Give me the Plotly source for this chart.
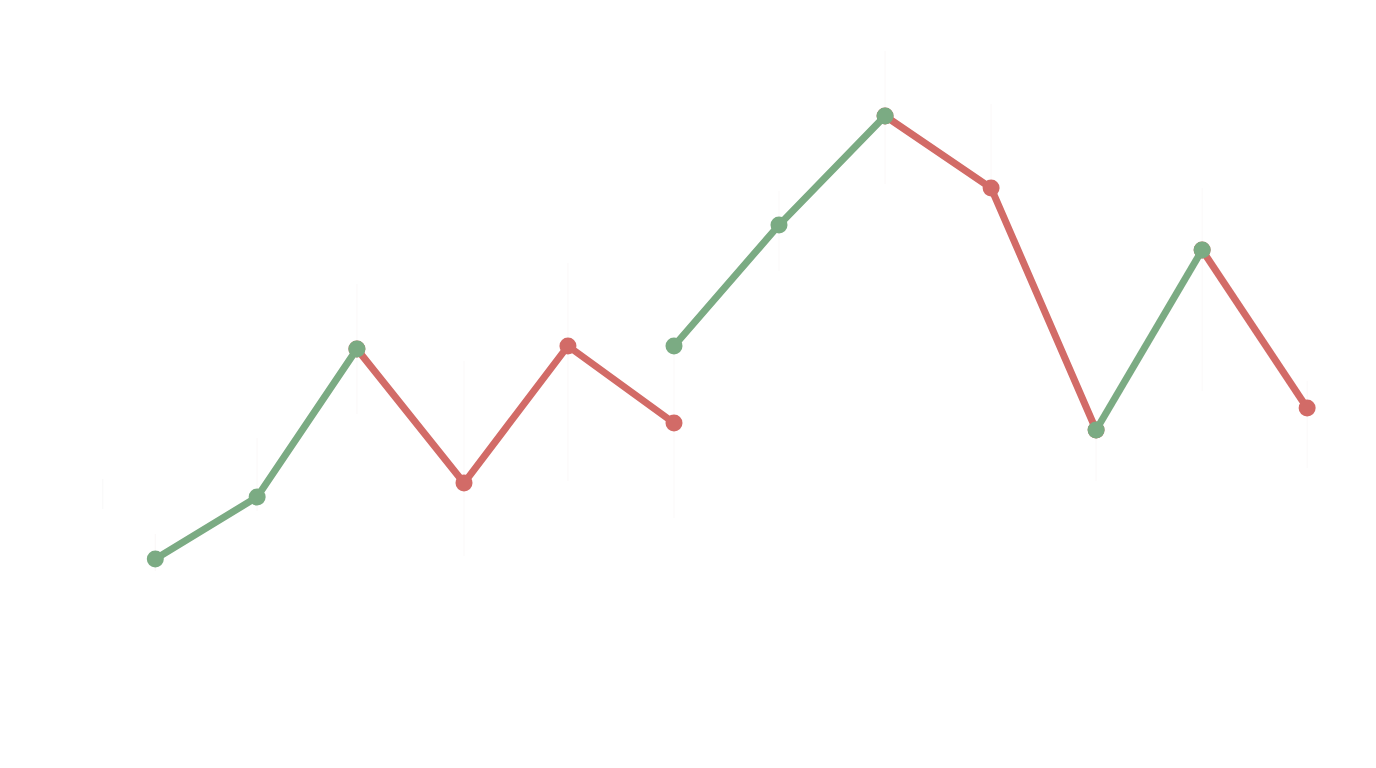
import plotly.graph_objects as go

# session positions along the x axis (slightly uneven)
sessions = [0.06, 1.03, 1.98, 3.0, 3.99, 5.0, 6.0, 7.01, 8.02, 9.02, 10.03, 11.03]

# faint high / low range for each session
highs = [47.35, 52.15, 59.85, 56.0, 60.9, 56.35, 64.5, 71.5, 68.85, 53.0, 64.65, 55.0]
lows = [45.5, 48.5, 53.35, 46.25, 50.0, 48.15, 60.5, 64.85, 64.5, 50.0, 54.5, 50.65]

# rising runs (green) and falling runs (red), None breaks the line
green_idx = [0, 1, 2, None, 5, 6, 7, None, 9, 10]
green_y = [46.1, 49.2, 56.6, None, 56.75, 62.8, 68.25, None, 52.55, 61.55]
red_idx = [2, 3, 4, 5, None, 7, 8, 9, None, 10, 11]
red_y = [56.6, 49.9, 56.75, 52.9, None, 68.25, 64.65, 52.55, None, 61.55, 53.65]

GREEN = "#7BAB83"
RED = "#D26B67"

green_x = [sessions[i] if i is not None else None for i in green_idx]
red_x = [sessions[i] if i is not None else None for i in red_idx]

wick_x, wick_y = [], []
for s, h, l in zip(sessions, highs, lows):
    wick_x += [s, s, None]
    wick_y += [l, h, None]

fig = go.Figure()
fig.add_trace(go.Scatter(
    x=wick_x, y=wick_y, mode="lines",
    line=dict(color="rgba(190,140,140,0.06)", width=1),
    hoverinfo="skip", showlegend=False,
))
fig.add_trace(go.Scatter(
    x=red_x, y=red_y, mode="lines+markers",
    line=dict(color=RED, width=7),
    marker=dict(color=RED, size=17),
    showlegend=False,
))
fig.add_trace(go.Scatter(
    x=green_x, y=green_y, mode="lines+markers",
    line=dict(color=GREEN, width=7),
    marker=dict(color=GREEN, size=17),
    showlegend=False,
))

# the almost invisible "50" label on the left
fig.add_annotation(
    x=-0.65, y=49.85, xref="x", yref="y", text="50", showarrow=False,
    font=dict(family="Roboto", size=20, color="rgba(0,0,0,0.025)"),
)
fig.add_shape(
    type="line", x0=-0.44, x1=-0.44, y0=48.6, y1=50.1, xref="x", yref="y",
    line=dict(color="rgba(0,0,0,0.03)", width=1),
)

fig.update_layout(
    width=1376, height=768,
    margin=dict(l=0, r=0, t=0, b=0),
    paper_bgcolor="white", plot_bgcolor="white",
    xaxis=dict(range=[-1.343, 11.762], visible=False),
    yaxis=dict(range=[35.25, 73.65], visible=False),
)

fig.write_html("out.html", config={"displayModeBar": False})
